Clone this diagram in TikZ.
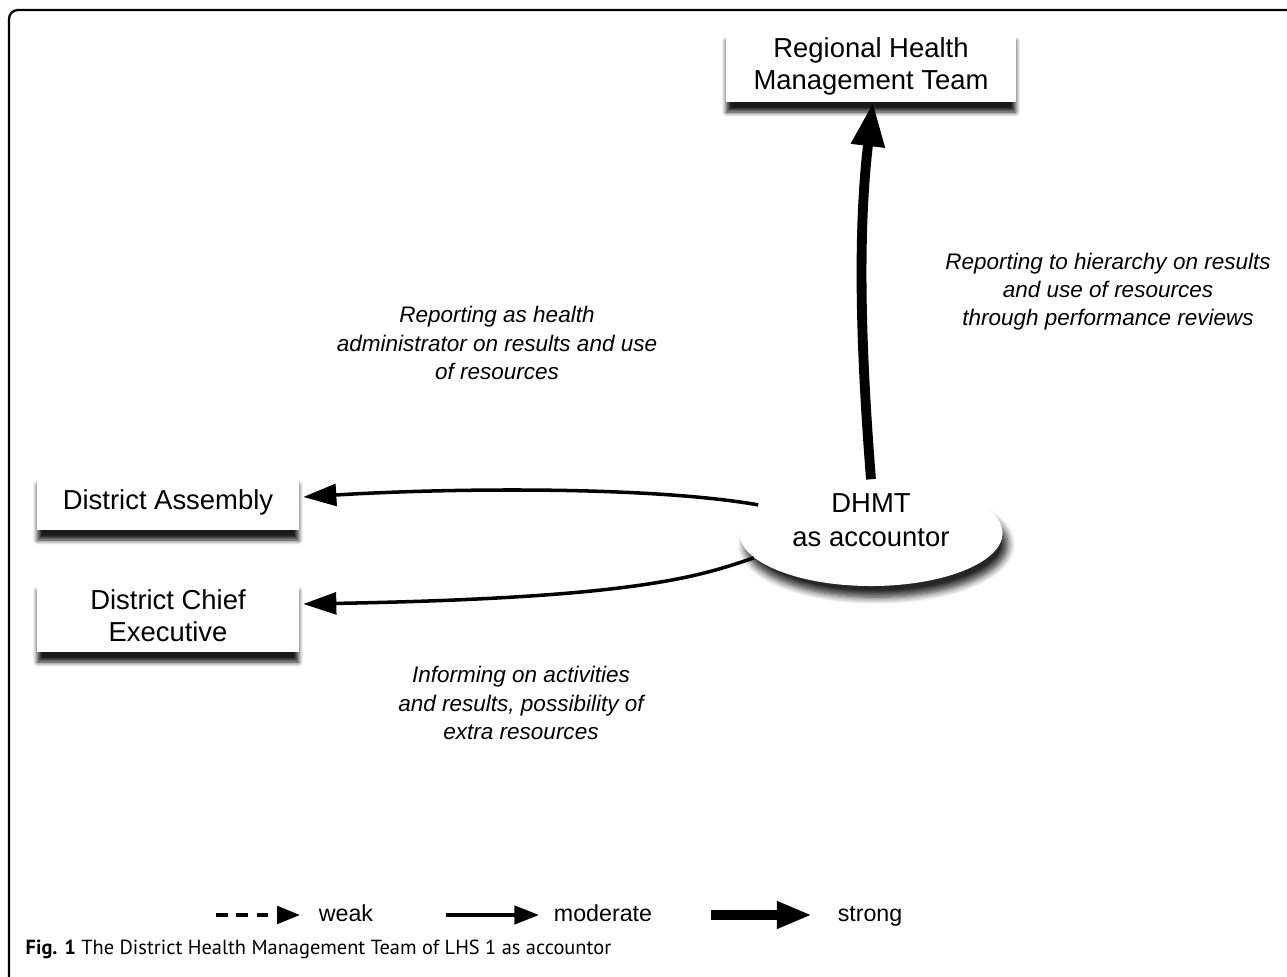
\documentclass[tikz,border=0pt]{standalone}
\usepackage{fontspec}
\setmainfont{Liberation Sans}
\newfontfamily\capfont{PT Sans}
\usetikzlibrary{arrows.meta,shapes.geometric,shadows.blur}
\begin{document}
\begin{tikzpicture}[x=0.01cm,y=-0.01cm,
  box/.style={fill=white, draw=none, align=center, inner sep=0pt,
    font=\fontsize{7.8}{9.1}\selectfont,
    blur shadow={shadow xshift=0pt, shadow yshift=-3pt, shadow opacity=90,
      shadow blur steps=6, shadow blur radius=1.3pt}},
  lab/.style={align=center, font=\fontsize{6.4}{8}\selectfont\itshape},
  legtext/.style={anchor=base, font=\fontsize{6.6}{8}\selectfont},
  moderate/.style={line width=1pt, -{Triangle[length=9.4pt,width=6.2pt]}},
  strongarrow/.style={line width=2.8pt, -{Triangle[length=12.5pt,width=9pt]}},
]
\useasboundingbox (0,0) rectangle (1287,977);
\begin{scope}
\clip (0,0) rectangle (1287,977);
\draw[line width=0.65pt, rounded corners=0.09cm] (9,1020) -- (9,10) -- (1320,10);
\end{scope}

% nodes
\node[box, minimum width=2.89cm, minimum height=0.71cm] (rhmt) at (871,66) {Regional Health\\Management Team};
\node[box, minimum width=2.61cm, minimum height=0.55cm] (da) at (168,502) {District Assembly};
\node[box, minimum width=2.61cm, minimum height=0.71cm] (dce) at (168,616) {District Chief\\Executive};
\node[ellipse, fill=white, inner sep=0pt, minimum width=2.63cm, minimum height=1.06cm,
  blur shadow={shadow xshift=1.5pt, shadow yshift=-3.2pt, shadow opacity=85,
      shadow blur steps=8, shadow blur radius=2pt}] (dhmt) at (871,533) {};
\node[align=center, font=\fontsize{7.8}{9.6}\selectfont] (dhmttext) at (871,520) {DHMT\\as accountor};

% connectors
\draw[strongarrow] (dhmt.north) .. controls (860,340) and (858,230) .. ([xshift=0.02cm]rhmt.south);
\draw[moderate] (dhmt.166) .. controls (650,486) and (450,488) .. ([xshift=0.04cm, yshift=0.05cm]da.east);
\draw[moderate] (dhmt.192) .. controls (700,576) and (640,598) .. ([xshift=0.04cm, yshift=0.12cm]dce.east);

% labels
\node[lab] (l1) at (497,343) {Reporting as health\\administrator on results and use\\of resources};
\node[lab] (l2) at (1108,292) {Reporting to hierarchy on results\\and use of resources\\through performance reviews};
\node[lab] (l3) at (521,703) {Informing on activities\\and results, possibility of\\extra resources};

% legend
\node[legtext] (weak) at (346,922) {weak};
\node[legtext] (mod) at (603,922) {moderate};
\node[legtext] (str) at (870,922) {strong};
\coordinate (w0) at (216,915);
\coordinate (m0) at (446,915);
\coordinate (s0) at (711,915);
\draw[line width=0.9pt, dash pattern=on 3.3pt off 2.5pt, -{Triangle[length=6.5pt,width=5pt]}] (w0) -- (300,915);
\draw[line width=1pt, -{Triangle[length=7pt,width=5.2pt]}] (m0) -- (539,915);
\draw[line width=2.6pt, -{Triangle[length=10pt,width=7.2pt]}] (s0) -- (812,915);

% caption
\node[anchor=west, inner sep=0pt, font=\capfont\fontsize{5.8}{8}\selectfont] (cap) at (25,949) {\textbf{Fig. 1} The District Health Management Team of LHS 1 as accountor};
\end{tikzpicture}
\end{document}
